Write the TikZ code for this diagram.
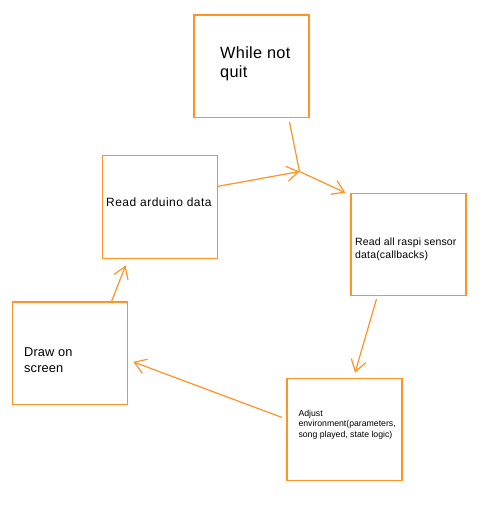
\documentclass[tikz,border=0pt]{standalone}
\usepackage{fontspec}
\setmainfont{Liberation Sans}
\newfontfamily\fwhile[LetterSpace=2]{Liberation Sans}
\newfontfamily\fard[LetterSpace=4]{Liberation Sans}
\newfontfamily\fras[LetterSpace=1.5]{Liberation Sans}
\newfontfamily\fdraw[LetterSpace=1]{Liberation Sans}
\newfontfamily\fadj{Liberation Sans}
\usetikzlibrary{arrows.meta,calc}
\definecolor{org}{RGB}{255,147,38}
\begin{document}
\begin{tikzpicture}[x=1pt,y=-1pt,
  box/.style={draw=org,line width=1.2pt,minimum width=115pt,minimum height=102.5pt,inner sep=0pt,anchor=north west},
  conn/.style={draw=org,line width=1.2pt,line cap=round,-{Straight Barb[length=11.5pt,width=15pt,line width=1.2pt]}},
  plain/.style={draw=org,line width=1.2pt,line cap=round},
  lbl/.style={anchor=base west,inner sep=0pt,text=black}]
\useasboundingbox (0,0) rectangle (482,512);
\fill[white] (0,0) rectangle (482,512);
% boxes
\node[box] (w) at (193.3,14.3) {};
\node[box] (a) at (101.7,155) {};
\node[box] (r) at (350.3,192.7) {};
\node[box] (s) at (11.7,301.3) {};
\node[box] (d) at (286.3,377.7) {};
% texts
\node[lbl,font=\fwhile\fontsize{16.3}{19}\selectfont] (w1) at (220,58.3) {While not};
\node[lbl,font=\fwhile\fontsize{16.3}{19}\selectfont] (w2) at (220,77.5) {quit};
\node[lbl,font=\fard\fontsize{12}{14}\selectfont] (a1) at (106,206.7) {Read arduino data};
\node[lbl,font=\fras\fontsize{10.5}{13}\selectfont] (r1) at (355,245) {Read all raspi sensor};
\node[lbl,font=\fras\fontsize{10.5}{13}\selectfont] (r2) at (355,258.7) {data(callbacks)};
\node[lbl,font=\fdraw\fontsize{12.8}{15}\selectfont] (s1) at (24,356) {Draw on};
\node[lbl,font=\fdraw\fontsize{12.8}{15}\selectfont] (s2) at (24,372) {screen};
\node[lbl,font=\fadj\fontsize{8.7}{10}\selectfont] (d1) at (298.3,416) {Adjust};
\node[lbl,font=\fadj\fontsize{8.7}{10}\selectfont] (d2) at (298.3,426.7) {environment(parameters,};
\node[lbl,font=\fadj\fontsize{8.7}{10}\selectfont] (d3) at (298.3,437.3) {song played, state logic)};
% connectors
\coordinate (j) at (299.5,171.5);
\draw[plain] ([shift={(38.2,4.3)}]w.south) -- (j);
\draw[conn] (j) -- ([shift={(-5,0)}]r.north west);
\draw[conn] ([shift={(0,-20.5)}]a.east) -- (j);
\draw[conn] ([shift={(-32,3)}]r.south) -- ([shift={(10.6,-5)}]d.north);
\draw[conn] ([shift={(-4.6,-12.2)}]d.west) -- ([shift={(5.3,8.7)}]s.east);
\draw[conn] ([shift={(41.8,0)}]s.north) -- ([shift={(-34.2,6.7)}]a.south);
\end{tikzpicture}
\end{document}
